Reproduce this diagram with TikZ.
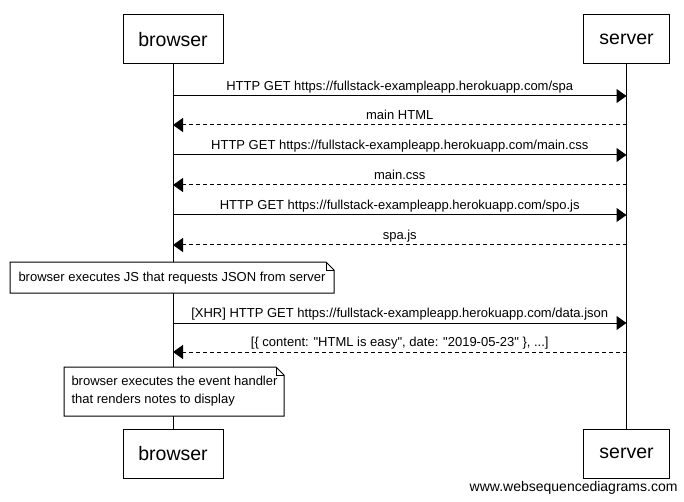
\documentclass[tikz,border=0pt]{standalone}
\usepackage{fontspec}
\setmainfont{Liberation Sans}
\usetikzlibrary{arrows.meta}
\tikzset{
  actor/.style={draw, fill=white, minimum height=49pt, inner sep=0pt, font=\fontsize{19.5}{22}\selectfont},
  msg/.style={-{Triangle[length=10pt,width=14pt]}},
  reply/.style={msg, dash pattern=on 4pt off 3pt},
  lbl/.style={font=\fontsize{13}{15}\selectfont, above=5pt, inner sep=0pt, text depth=0pt},
  notetext/.style={font=\fontsize{13}{18}\selectfont, align=left, anchor=west, inner sep=0pt}
}
\newcommand{\qq}{\textquotedbl}
\begin{document}
\begin{tikzpicture}[x=1pt,y=-1pt,line width=1pt]
		%%%%% FRAME %%%%%
		\useasboundingbox[fill=white] (0,0) rectangle (684,502);
		
		%%%%% ACTORS %%%%%
		\node[actor, minimum width=100pt] (bTop) at (173,39.5) {browser};
		\node[actor, minimum width=86pt] (sTop) at (626.5,39.5) {server};
		\node[actor, minimum width=100pt] (bBot) at (173,453.5) {browser};
		\node[actor, minimum width=86pt] (sBot) at (626.5,453.5) {server};
		
		%%%%% LIFELINES %%%%%
		\draw (bTop.south) -- (bBot.north);
		\draw (sTop.south) -- (sBot.north);
		
		%%%%% MESSAGES %%%%%
		\coordinate (b1) at (173,96);  \coordinate (s1) at (626.5,96);
		\coordinate (b2) at (173,125); \coordinate (s2) at (626.5,125);
		\coordinate (b3) at (173,155); \coordinate (s3) at (626.5,155);
		\coordinate (b4) at (173,185); \coordinate (s4) at (626.5,185);
		\coordinate (b5) at (173,215); \coordinate (s5) at (626.5,215);
		\coordinate (b6) at (173,245); \coordinate (s6) at (626.5,245);
		\coordinate (b7) at (173,323); \coordinate (s7) at (626.5,323);
		\coordinate (b8) at (173,352); \coordinate (s8) at (626.5,352);
		
		\draw[msg] (b1) -- node[lbl] {HTTP GET https://fullstack-exampleapp.herokuapp.com/spa} (s1);
		\draw[reply] (s2) -- node[lbl] {main HTML} (b2);
		\draw[msg] (b3) -- node[lbl] {HTTP GET https://fullstack-exampleapp.herokuapp.com/main.css} (s3);
		\draw[reply] (s4) -- node[lbl] {main.css} (b4);
		\draw[msg] (b5) -- node[lbl] {HTTP GET https://fullstack-exampleapp.herokuapp.com/spo.js} (s5);
		\draw[reply] (s6) -- node[lbl] {spa.js} (b6);
		\draw[msg] (b7) -- node[lbl] {[XHR] HTTP GET https://fullstack-exampleapp.herokuapp.com/data.json} (s7);
		\draw[reply] (s8) -- node[lbl] {[\{ content: \qq HTML is easy\qq, date: \qq 2019-05-23\qq\ \}, ...]} (b8);
		
		%%%%% NOTES %%%%%
		\draw[fill=white] (10,262) -- (326,262) -- (334,270) -- (334,293) -- (10,293) -- cycle;
		\draw (326,262) -- (326,270) -- (334,270);
		\node[notetext] (note1) at (18,278) {browser executes JS that requests JSON from server};
		
		\draw[fill=white] (64,367) -- (276,367) -- (284,375) -- (284,416) -- (64,416) -- cycle;
		\draw (276,367) -- (276,375) -- (284,375);
		\node[notetext] (note2) at (71,391.5) {browser executes the event handler\\that renders notes to display};
		
		%%%%% WATERMARK %%%%%
		\node[font=\fontsize{14}{16}\selectfont, anchor=east, inner sep=0pt] (mark) at (678,488) {www.websequencediagrams.com};
	\end{tikzpicture}
\end{document}
